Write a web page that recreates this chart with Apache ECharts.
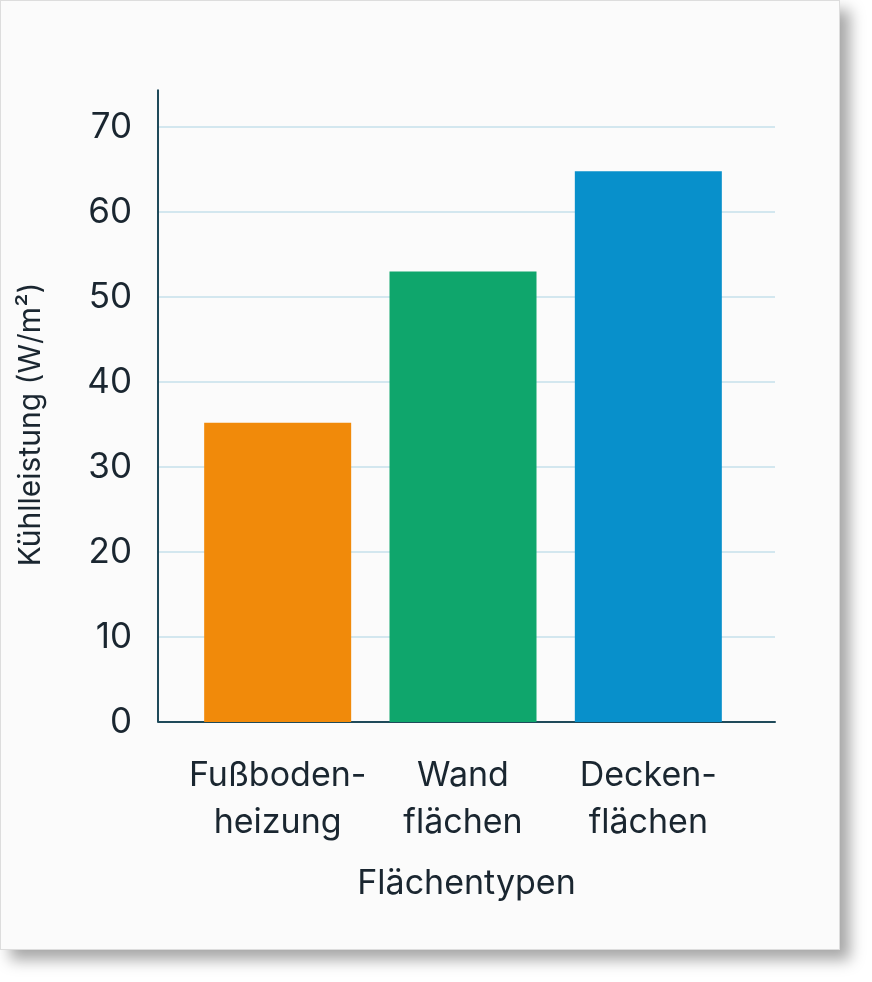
<!DOCTYPE html>
<html><head><meta charset="utf-8">
<script src="https://cdn.jsdelivr.net/npm/echarts@6/dist/echarts.min.js"></script>
<style>
html,body{margin:0;padding:0;background:#fff}
#card{position:absolute;left:0;top:0;width:838px;height:948px;background:#fbfbfb;border:1px solid #ddd;box-shadow:10px 10px 14px rgba(0,0,0,0.35)}
#c{position:absolute;left:0;top:0;width:872px;height:982px}
</style></head>
<body>
<div id="card"></div>
<div id="c"></div>
<script>
// Kühlleistung je Flächentyp
var categories = ['Fußboden-\nheizung', 'Wand\nflächen', 'Decken-\nflächen']
var values = [35.2, 53, 64.8]
var barColors = ['#f18a0a', '#0fa66c', '#0890cb']
var yTicks = [0, 10, 20, 30, 40, 50, 60, 70]
var axisTop = 74.4

var mychart = echarts.init(document.getElementById('c'))
var font = 'Inter, "Noto Sans", sans-serif'
var txt = '#1a2630'
var yMin = yTicks[0], yMax = yTicks[yTicks.length-1]
mychart.setOption({
  textStyle:{fontFamily:font},
  grid:[
    {left:158, right:97, top:127, bottom:260},
    {left:185, right:131, top:127, bottom:260}
  ],
  xAxis:[{
    type:'value', gridIndex:0, min:0, max:1,
    name:'Flächentypen', nameLocation:'middle', nameGap:145,
    nameTextStyle:{fontSize:34, color:txt, fontFamily:font},
    axisLine:{show:true, lineStyle:{color:'#1f4a5a', width:2}},
    axisTick:{show:false}, axisLabel:{show:false}, splitLine:{show:false}
  },{
    type:'category', gridIndex:1, data:categories,
    axisLine:{show:false}, axisTick:{show:false},
    axisLabel:{interval:0, fontSize:34, color:txt, lineHeight:47, margin:30, fontFamily:font}
  }],
  yAxis:[{
    type:'value', gridIndex:0, min:yMin, max:yMax, interval:10,
    name:'Kühlleistung (W/m²)', nameLocation:'middle', nameGap:112, nameRotate:90,
    nameTextStyle:{fontSize:30, color:txt, fontFamily:font},
    axisLine:{show:false}, axisTick:{show:false},
    axisLabel:{fontSize:35, color:txt, margin:26, fontFamily:font},
    splitLine:{lineStyle:{color:'#d3e7ef', width:2}}
  },{
    type:'value', gridIndex:1, min:yMin, max:yMax, interval:10, show:false
  }],
  series:[{
    type:'bar', xAxisIndex:1, yAxisIndex:1, barWidth:147,
    data:values.map((v,i)=>({value:v, itemStyle:{color:barColors[i]}}))
  }]
})
// y axis line extends above the last tick
var p0 = mychart.convertToPixel({yAxisIndex:0},0)
var p1 = mychart.convertToPixel({yAxisIndex:0},axisTop)
mychart.setOption({graphic:[{type:'line', shape:{x1:158,y1:p1,x2:158,y2:p0}, style:{stroke:'#1f4a5a', lineWidth:2}, z:10}]})
</script>
</body></html>
